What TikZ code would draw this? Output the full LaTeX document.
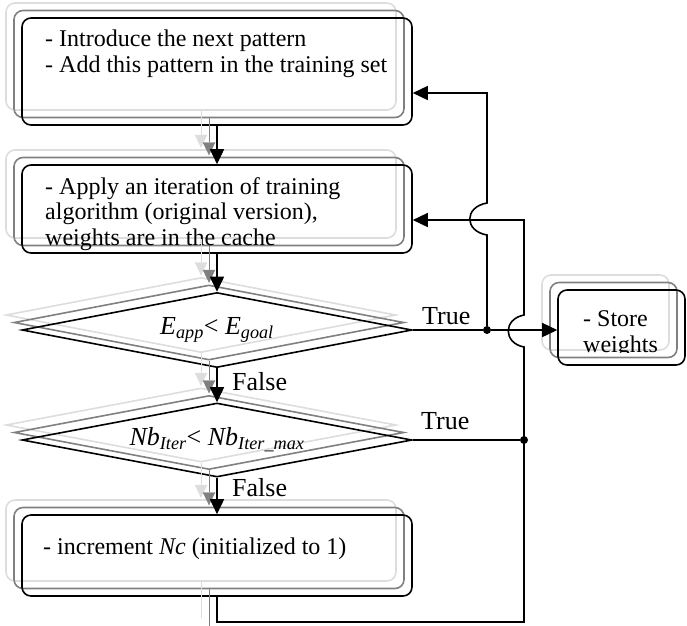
\documentclass[tikz,border=0pt]{standalone}
\usepackage{fontspec}
\setmainfont{Liberation Serif}
\usetikzlibrary{arrows.meta,shapes.geometric}
\definecolor{lgr}{HTML}{DDDDDD}
\definecolor{mgr}{HTML}{808080}
\begin{document}
\begin{tikzpicture}[x=1pt,y=-1pt,
  font=\fontsize{24}{25.5}\selectfont,
  conn/.style={line width=1.6pt, draw=black},
  tip/.style={-{Triangle[length=15pt,width=14pt]}},
  shad/.style={
    preaction={draw=lgr, transform canvas={shift={(-16,-15)}}},
    preaction={draw=mgr, transform canvas={shift={(-8,-7.5)}}}},
  boxnode/.style={draw, line width=1.6pt, rounded corners=9pt, inner sep=0pt, shad},
  decnode/.style={draw, line width=1.6pt, diamond, aspect=5.2, inner sep=0pt,
    minimum width=390pt, minimum height=75pt, shad, font=\fontsize{26}{28}\selectfont},
  txt/.style={inner sep=0pt, align=left, anchor=base west},
  lbl/.style={inner sep=0pt, anchor=base west, font=\fontsize{26}{28}\selectfont},
  junc/.style={circle, fill=black, inner sep=0pt, minimum size=8pt},
]
\useasboundingbox (0,0) rectangle (687,625);
% boxes
\node[boxnode, minimum width=390pt, minimum height=107pt] (b1) at (217,71.5) {};
\node[txt] (t1) at (45,72) {- Introduce the next pattern\\- Add this pattern in the training set};
\node[boxnode, minimum width=390pt, minimum height=88pt] (b2) at (217,209) {};
\node[txt] (t2) at (45,245) {- Apply an iteration of training\\algorithm (original version),\\weights are in the cache};
\node[decnode] (d1) at (217,330) {\textit{E}\textsubscript{\textit{app}}< \textit{E}\textsubscript{\textit{goal}}};
\node[decnode, minimum height=74pt] (d2) at (217,440) {\textit{Nb}\textsubscript{\textit{Iter}}< \textit{Nb}\textsubscript{\textit{Iter\_max}}};
\node[boxnode, minimum width=390pt, minimum height=81pt] (b3) at (217,555.5) {};
\node[txt] (t3) at (43,554) {- increment \textit{Nc} (initialized to 1)};
\node[boxnode, minimum width=127pt, minimum height=75pt] (sw) at (621.5,327.5) {};
\begin{scope}
\clip (540,270) rectangle (687,352.5);
\node[txt] (t4) at (583,352) {- Store\\weights};
\end{scope}
% main column
\draw[conn, tip, shad] (b1.south) -- (b2.north);
\draw[conn, tip, shad] (b2.south) -- (d1.north);
\draw[conn, tip, shad] (d1.south) -- (d2.north);
\draw[conn, tip, shad] (d2.south) -- (b3.north);
\path[shad, line width=1.6pt] (b3.south) -- (217,633);
\node[lbl] (f1) at (232,390) {False};
\node[lbl] (f2) at (232,496) {False};
% junctions and labels
\node[junc] (j1) at (487,330) {};
\node[junc] (j2) at (524,440) {};
\node[lbl] (tr1) at (422,324) {True};
\node[lbl] (tr2) at (421,429) {True};
\coordinate (r1) at (217,622);
\coordinate (r2) at (524,622);
% connectors
\draw[conn] (d1.east) -- (j1);
\draw[conn, tip] (j1) -- (j1 -| sw.west);
\draw[conn, tip] (j1) -- (487,235) .. controls (464,231) and (464,207) .. (487,203) |- ([yshift=-21.5pt]b1.east);
\draw[conn] (d2.east) -- (j2);
\draw[conn, tip] (b3.south) -- (r1) -- (r2) -- (524,347) .. controls (503,343) and (503,319) .. (524,315) |- ([yshift=-11pt]b2.east);
\end{tikzpicture}
\end{document}
